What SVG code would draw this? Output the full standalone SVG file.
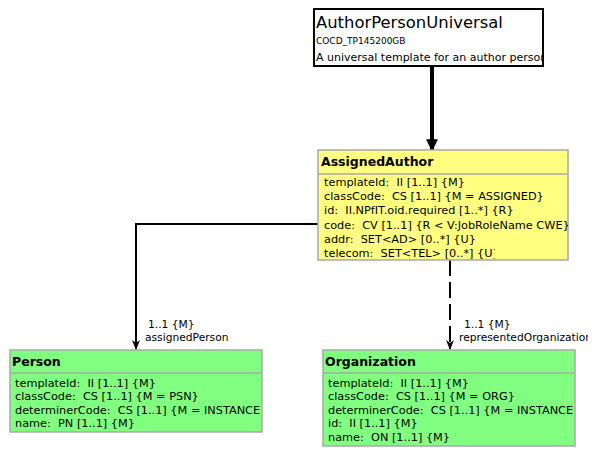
<svg xmlns="http://www.w3.org/2000/svg" width="614" height="456" viewBox="0 0 614 456">
  <style>
    text { font-family: "DejaVu Sans", Verdana, sans-serif; fill: #000; white-space: pre; }
    .title { font-size: 16.4px; }
    .small { font-size: 9px; }
    .desc { font-size: 11px; }
    .hdr { font-size: 12.5px; font-weight: bold; }
    .attr { font-size: 11.3px; }
    .lbl { font-size: 10.7px; }
    .cls-y { fill: #ffff80; stroke: #a8a8a8; stroke-width: 1.5; }
    .cls-g { fill: #80ff80; stroke: #a8a8a8; stroke-width: 1.5; }
    .sep { stroke: #a8a8a8; stroke-width: 1.5; }
    .conn { fill: none; stroke: #000; stroke-width: 2; }
  </style>
  <defs>
    <marker id="arrow" viewBox="0 0 10 10" refX="9" refY="5" markerWidth="5" markerHeight="5" orient="auto" markerUnits="strokeWidth">
      <path d="M0,1 L10,5 L0,9 L3,5 z" fill="#000"/>
    </marker>
    <marker id="arrowBig" viewBox="0 0 10 10" refX="9" refY="5" markerWidth="3" markerHeight="3.2" orient="auto" markerUnits="strokeWidth">
      <path d="M0,0 L10,5 L0,10 z" fill="#000"/>
    </marker>
    <clipPath id="clipTop"><rect x="314" y="9" width="229" height="57"/></clipPath>
    <clipPath id="clipCode"><rect x="314" y="9" width="92" height="57"/></clipPath>
    <clipPath id="clipAA"><rect x="318" y="150" width="250" height="110"/></clipPath>
    <clipPath id="clipTel"><rect x="318" y="246" width="177" height="14"/></clipPath>
    <clipPath id="clipP"><rect x="10" y="350" width="251" height="82"/></clipPath>
    <clipPath id="clipO"><rect x="323" y="350" width="251" height="96"/></clipPath>
    <clipPath id="clipPage"><rect x="0" y="0" width="588" height="456"/></clipPath>
  </defs>

  <g id="connectors">
    <line x1="432" y1="66" x2="432" y2="150" stroke="#000" stroke-width="4" marker-end="url(#arrowBig)"/>
    <polyline class="conn" points="318,224 136,224 136,349" marker-end="url(#arrow)"/>
    <line class="conn" x1="450" y1="260" x2="450" y2="349" stroke-dasharray="16,6" marker-end="url(#arrow)"/>
    <text class="lbl" x="148" y="328">1..1 {M}</text>
    <text class="lbl" x="145" y="341">assignedPerson</text>
    <g clip-path="url(#clipPage)">
      <text class="lbl" x="464" y="328">1..1 {M}</text>
      <text class="lbl" x="459" y="341">representedOrganization</text>
    </g>
  </g>

  <g id="AuthorPersonUniversal">
    <rect x="314" y="9" width="229" height="57" fill="#fff" stroke="#000" stroke-width="2"/>
    <g clip-path="url(#clipTop)">
      <text class="title" x="316" y="28">AuthorPersonUniversal</text>
      <text class="desc" x="316" y="61">A universal template for an author person</text>
    </g>
    <g clip-path="url(#clipCode)">
      <text class="small" x="316" y="44">COCD_TP145200GB01</text>
    </g>
  </g>

  <g id="AssignedAuthor">
    <rect class="cls-y" x="318" y="150" width="250" height="110"/>
    <line class="sep" x1="318" y1="174" x2="568" y2="174"/>
    <g clip-path="url(#clipAA)">
      <text class="hdr" x="321" y="166">AssignedAuthor</text>
      <text class="attr" x="324" y="186">templateId:  II [1..1] {M}</text>
      <text class="attr" x="324" y="200">classCode:  CS [1..1] {M = ASSIGNED}</text>
      <text class="attr" x="324" y="214">id:  II.NPfIT.oid.required [1..*] {R}</text>
      <text class="attr" x="324" y="229">code:  CV [1..1] {R &lt; V:JobRoleName CWE}</text>
      <text class="attr" x="324" y="243">addr:  SET&lt;AD&gt; [0..*] {U}</text>
    </g>
    <g clip-path="url(#clipTel)">
      <text class="attr" x="324" y="257">telecom:  SET&lt;TEL&gt; [0..*] {U}</text>
    </g>
  </g>

  <g id="Person">
    <rect class="cls-g" x="10" y="350" width="252" height="82"/>
    <line class="sep" x1="10" y1="373" x2="262" y2="373"/>
    <g clip-path="url(#clipP)">
      <text class="hdr" x="12" y="366">Person</text>
      <text class="attr" x="15" y="387">templateId:  II [1..1] {M}</text>
      <text class="attr" x="15" y="400">classCode:  CS [1..1] {M = PSN}</text>
      <text class="attr" x="15" y="414">determinerCode:  CS [1..1] {M = INSTANCE}</text>
      <text class="attr" x="15" y="427">name:  PN [1..1] {M}</text>
    </g>
  </g>

  <g id="Organization">
    <rect class="cls-g" x="323" y="350" width="252" height="96"/>
    <line class="sep" x1="323" y1="373" x2="575" y2="373"/>
    <g clip-path="url(#clipO)">
      <text class="hdr" x="325" y="366">Organization</text>
      <text class="attr" x="328" y="387">templateId:  II [1..1] {M}</text>
      <text class="attr" x="328" y="400">classCode:  CS [1..1] {M = ORG}</text>
      <text class="attr" x="328" y="414">determinerCode:  CS [1..1] {M = INSTANCE}</text>
      <text class="attr" x="328" y="427">id:  II [1..1] {M}</text>
      <text class="attr" x="328" y="441">name:  ON [1..1] {M}</text>
    </g>
  </g>
</svg>
